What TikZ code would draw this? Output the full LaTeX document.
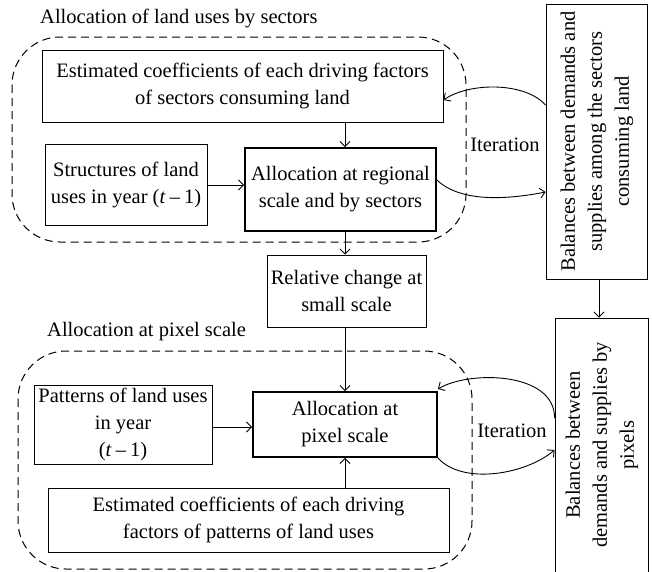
\documentclass[tikz,border=0pt]{standalone}
\usepackage{fontspec}
\usepackage{graphicx}
\setmainfont{Liberation Serif}
\usetikzlibrary{arrows.meta}
\newcommand{\tmo}{(\textit{t}\hspace{0.2em}–\hspace{0.2em}1)}
\begin{document}
\begin{tikzpicture}[x=1pt,y=-1pt,
  font=\fontsize{20.5}{27}\selectfont,
  box/.style={draw, line width=0.9pt, inner sep=0pt, align=center},
  tbox/.style={box, line width=1.8pt},
  region/.style={draw, dashed, dash pattern=on 8pt off 5pt, line width=1pt, rounded corners=48pt},
  arr/.style={line width=0.9pt, -{Straight Barb[length=5pt,width=10pt]}},
  ttl/.style={anchor=west, inner sep=0pt}
]
\useasboundingbox (0,0) rectangle (652,571);
% regions
\draw[region] (12,37) rectangle (466,242);
\draw[region] (18,351) rectangle (472,569);
\node[ttl] (t1) at (40,18) {Allocation of land uses by sectors};
\node[ttl] (t2) at (47,332) {Allocation at pixel scale};
% boxes
\node[box, minimum width=401pt, minimum height=72pt] (est1) at (242.5,86)
  {Estimated coefficients of each driving factors\\of sectors consuming land};
\node[box, minimum width=162pt, minimum height=81pt] (struct) at (126,184.5)
  {Structures of land\\uses in year \tmo};
\node[tbox, minimum width=191pt, minimum height=83pt] (allocR) at (340.5,189.5)
  {Allocation at regional\\scale and by sectors};
\node[box, minimum width=159pt, minimum height=72pt] (rel) at (346.5,291)
  {Relative change at\\small scale};
\node[box, minimum width=178pt, minimum height=79pt] (pat) at (123,424.5)
  {Patterns of land uses\\in year\\\tmo};
\node[tbox, minimum width=184pt, minimum height=65pt] (allocP) at (345,424.5)
  {Allocation at\\pixel scale};
\node[box, minimum width=401pt, minimum height=64pt] (est2) at (248.5,520)
  {Estimated coefficients of each driving\\factors of patterns of land uses};
\node[box, minimum width=101pt, minimum height=275pt] (bal1) at (596.5,141.5)
  {\rotatebox{90}{\begin{tabular}{@{}c@{}}Balances between demands and\\supplies among the sectors\\consuming land\end{tabular}}};
\node[box, minimum width=93pt, minimum height=254pt] (bal2) at (601.5,445)
  {\rotatebox{90}{\begin{tabular}{@{}c@{}}Balances between\\demands and supplies by\\pixels\end{tabular}}};
% axis coordinates
\coordinate (cx) at (345,0);
\coordinate (bx) at (599,0);
% straight arrows
\draw[arr] (cx |- est1.south) -- (cx |- allocR.north);
\draw[arr] (struct.east |- 0,185) -- (allocR.west |- 0,185);
\draw[arr] (cx |- allocR.south) -- (cx |- rel.north);
\draw[arr] (cx |- rel.south) -- (cx |- allocP.north);
\draw[arr] (pat.east |- 0,427) -- (allocP.west |- 0,427);
\draw[arr] (cx |- est2.north) -- (cx |- allocP.south);
\draw[arr] (bx |- bal1.south) -- (bx |- bal2.north);
% iteration curves (top)
\coordinate (a1) at (bal1.west |- 0,105);
\coordinate (a2) at (est1.east |- 0,100);
\draw[arr] (a1) .. controls (525,82) and (470,82) .. (a2);
\coordinate (a3) at (allocR.east |- 0,180);
\coordinate (a4) at (bal1.west |- 0,192);
\draw[arr] (a3) .. controls (460,202) and (505,200) .. (a4);
\node (it1) at (505,145) {Iteration};
% iteration curves (bottom)
\coordinate (b1) at (bal2.west |- 0,418);
\coordinate (b2) at (allocP.east |- 0,389);
\draw[arr] (b1) .. controls (555,372) and (470,370) .. (b2);
\coordinate (b3) at (allocP.south east);
\coordinate (b4) at (bal2.west |- 0,450);
\draw[arr] (b3) .. controls (462,485) and (525,475) .. (b4);
\node (it2) at (512,431) {Iteration};
\end{tikzpicture}
\end{document}
